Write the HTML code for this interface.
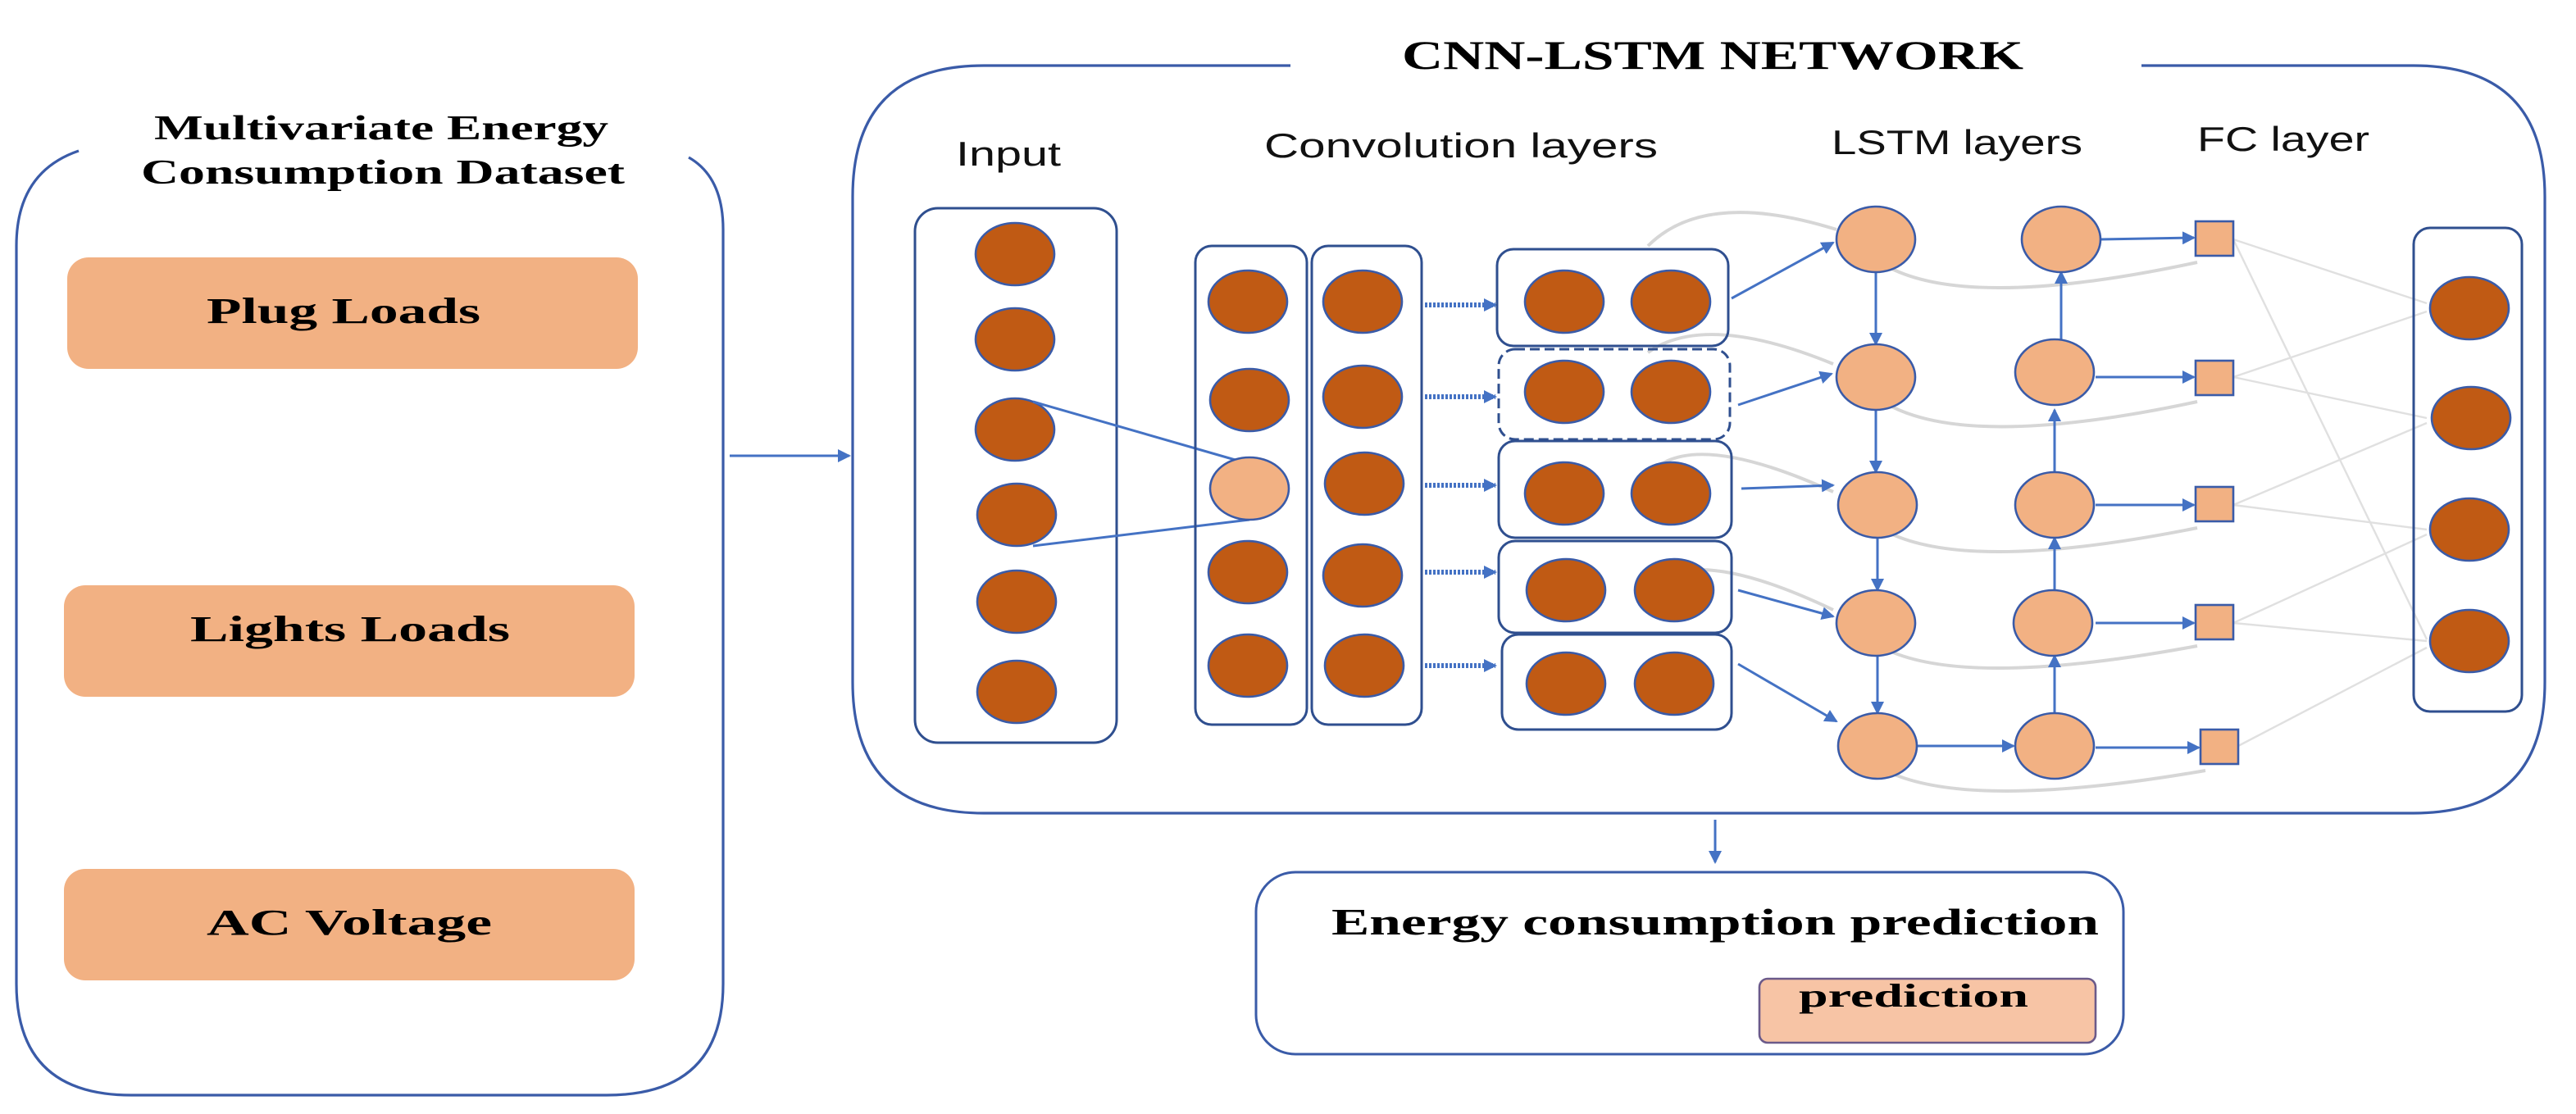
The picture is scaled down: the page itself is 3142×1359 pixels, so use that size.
<!DOCTYPE html>
<html><head><meta charset="utf-8"><style>
html,body{margin:0;padding:0;background:#fff}
svg{display:block}
.s{font-family:"Liberation Serif",serif;font-weight:bold;fill:#000}
.a{font-family:"Liberation Sans",sans-serif;fill:#111}
</style></head><body>
<svg width="3142" height="1359" viewBox="0 0 1571 679.5" preserveAspectRatio="none" xmlns="http://www.w3.org/2000/svg">
<defs>
<marker id="ar" markerWidth="8" markerHeight="8" refX="7" refY="4" orient="auto" markerUnits="userSpaceOnUse"><path d="M0,0 L8,4 L0,8 z" fill="#4472c4"/></marker>
</defs>
<!-- left box -->
<path d="M48,92 Q10,105 10,150 L10,600 Q10,668 80,668 L370,668 Q441,668 441,600 L441,140 Q441,108 420,96" fill="none" stroke="#3a5ba8" stroke-width="1.6"/>
<text class="s" x="94" y="85" font-size="21" textLength="277" lengthAdjust="spacingAndGlyphs">Multivariate Energy</text>
<text class="s" x="86" y="112" font-size="21" textLength="295" lengthAdjust="spacingAndGlyphs">Consumption Dataset</text>
<rect x="41" y="157" width="348" height="68" rx="13" fill="#f2b183"/>
<rect x="39" y="357" width="348" height="68" rx="13" fill="#f2b183"/>
<rect x="39" y="530" width="348" height="68" rx="13" fill="#f2b183"/>
<text class="s" x="126" y="197" font-size="22" textLength="167" lengthAdjust="spacingAndGlyphs">Plug  Loads</text>
<text class="s" x="116" y="391" font-size="22" textLength="195" lengthAdjust="spacingAndGlyphs">Lights  Loads</text>
<text class="s" x="126" y="570" font-size="22" textLength="174" lengthAdjust="spacingAndGlyphs">AC Voltage</text>
<line x1="445" y1="278" x2="518" y2="278" stroke="#4472c4" stroke-width="1.5" marker-end="url(#ar)"/>
<!-- CNN-LSTM box -->
<path d="M787,40 L600,40 Q520,40 520,120 L520,416 Q520,496 600,496 L1472,496 Q1552,496 1552,416 L1552,120 Q1552,40 1472,40 L1306,40" fill="none" stroke="#3a5ba8" stroke-width="1.6"/>
<text class="s" x="855" y="42" font-size="25" textLength="379" lengthAdjust="spacingAndGlyphs">CNN-LSTM NETWORK</text>
<text class="a" x="583" y="101" font-size="21" textLength="64" lengthAdjust="spacingAndGlyphs">Input</text>
<text class="a" x="771" y="96" font-size="21" textLength="240" lengthAdjust="spacingAndGlyphs">Convolution  layers</text>
<text class="a" x="1117" y="94" font-size="21" textLength="153" lengthAdjust="spacingAndGlyphs">LSTM layers</text>
<text class="a" x="1340" y="92" font-size="21" textLength="105" lengthAdjust="spacingAndGlyphs">FC layer</text>
<!-- gray loops -->
<g fill="none" stroke="#d6d6d6" stroke-width="2">
<path d="M1005,150 Q1040,115 1120,140"/>
<path d="M1005,215 Q1040,190 1118,222"/>
<path d="M1005,290 Q1030,260 1118,300"/>
<path d="M1005,360 Q1030,330 1118,372"/>
<path d="M1150,162 Q1200,190 1340,160"/>
<path d="M1150,246 Q1200,275 1340,245"/>
<path d="M1150,324 Q1200,350 1340,322"/>
<path d="M1150,396 Q1200,420 1340,394"/>
<path d="M1150,470 Q1200,495 1345,470"/>
</g>
<g stroke="#e0e0e0" stroke-width="1.2">
<line x1="1362" y1="146" x2="1480" y2="185"/><line x1="1362" y1="146" x2="1480" y2="390"/>
<line x1="1362" y1="230" x2="1480" y2="190"/><line x1="1362" y1="230" x2="1480" y2="255"/>
<line x1="1362" y1="308" x2="1480" y2="258"/><line x1="1362" y1="308" x2="1480" y2="323"/>
<line x1="1362" y1="380" x2="1480" y2="326"/><line x1="1362" y1="380" x2="1480" y2="391"/>
<line x1="1365" y1="455" x2="1480" y2="395"/>
</g>
<!-- input -->
<rect x="558" y="127" width="123" height="326" rx="14" fill="none" stroke="#2f4f8f" stroke-width="1.5"/>
<g fill="#c05a14" stroke="#3a5ba8" stroke-width="1.3">
<ellipse cx="619" cy="155" rx="24" ry="19"/><ellipse cx="619" cy="207" rx="24" ry="19"/><ellipse cx="619" cy="262" rx="24" ry="19"/>
<ellipse cx="620" cy="314" rx="24" ry="19"/><ellipse cx="620" cy="367" rx="24" ry="19"/><ellipse cx="620" cy="422" rx="24" ry="19"/>
</g>
<line x1="630" y1="245" x2="762" y2="283" stroke="#4472c4" stroke-width="1.5"/>
<line x1="630" y1="333" x2="762" y2="317" stroke="#4472c4" stroke-width="1.5"/>
<!-- conv -->
<rect x="729" y="150" width="68" height="292" rx="10" fill="none" stroke="#2f4f8f" stroke-width="1.5"/>
<rect x="800" y="150" width="67" height="292" rx="10" fill="none" stroke="#2f4f8f" stroke-width="1.5"/>
<g fill="#c05a14" stroke="#3a5ba8" stroke-width="1.3">
<ellipse cx="761" cy="184" rx="24" ry="19"/><ellipse cx="762" cy="244" rx="24" ry="19"/>
<ellipse cx="761" cy="349" rx="24" ry="19"/><ellipse cx="761" cy="406" rx="24" ry="19"/>
<ellipse cx="831" cy="184" rx="24" ry="19"/><ellipse cx="831" cy="242" rx="24" ry="19"/><ellipse cx="832" cy="295" rx="24" ry="19"/>
<ellipse cx="831" cy="351" rx="24" ry="19"/><ellipse cx="832" cy="406" rx="24" ry="19"/>
</g>
<ellipse cx="762" cy="298" rx="24" ry="19" fill="#f2b183" stroke="#3a5ba8" stroke-width="1.3"/>
<g stroke="#4472c4" stroke-width="3" stroke-dasharray="1.5 1" marker-end="url(#ar)">
<line x1="869" y1="186" x2="912" y2="186"/><line x1="869" y1="242" x2="912" y2="242"/>
<line x1="869" y1="296" x2="912" y2="296"/><line x1="869" y1="349" x2="912" y2="349"/>
<line x1="869" y1="406" x2="912" y2="406"/>
</g>
<g fill="none" stroke="#2f4f8f" stroke-width="1.5">
<rect x="913" y="152" width="141" height="59" rx="10"/>
<rect x="914" y="213" width="141" height="55" rx="10" stroke-dasharray="6 3"/>
<rect x="914" y="269" width="142" height="59" rx="10"/>
<rect x="914" y="330" width="142" height="56" rx="10"/>
<rect x="916" y="387" width="140" height="58" rx="10"/>
</g>
<g fill="#c05a14" stroke="#3a5ba8" stroke-width="1.3">
<ellipse cx="954" cy="184" rx="24" ry="19"/><ellipse cx="1019" cy="184" rx="24" ry="19"/>
<ellipse cx="954" cy="239" rx="24" ry="19"/><ellipse cx="1019" cy="239" rx="24" ry="19"/>
<ellipse cx="954" cy="301" rx="24" ry="19"/><ellipse cx="1019" cy="301" rx="24" ry="19"/>
<ellipse cx="955" cy="360" rx="24" ry="19"/><ellipse cx="1021" cy="360" rx="24" ry="19"/>
<ellipse cx="955" cy="417" rx="24" ry="19"/><ellipse cx="1021" cy="417" rx="24" ry="19"/>
</g>
<!-- arrows to LSTM -->
<g stroke="#4472c4" stroke-width="1.5" fill="none" marker-end="url(#ar)">
<line x1="1056" y1="182" x2="1118" y2="148"/>
<line x1="1060" y1="247" x2="1117" y2="228"/>
<line x1="1062" y1="298" x2="1118" y2="296"/>
<line x1="1060" y1="360" x2="1118" y2="376"/>
<line x1="1060" y1="405" x2="1120" y2="440"/>
<line x1="1144" y1="166" x2="1144" y2="210"/>
<line x1="1144" y1="250" x2="1144" y2="288"/>
<line x1="1145" y1="328" x2="1145" y2="360"/>
<line x1="1145" y1="400" x2="1145" y2="435"/>
<line x1="1169" y1="455" x2="1228" y2="455"/>
<line x1="1253" y1="435" x2="1253" y2="400"/>
<line x1="1253" y1="360" x2="1253" y2="328"/>
<line x1="1253" y1="288" x2="1253" y2="250"/>
<line x1="1257" y1="210" x2="1257" y2="166"/>
<line x1="1281" y1="146" x2="1338" y2="145"/>
<line x1="1278" y1="230" x2="1338" y2="230"/>
<line x1="1278" y1="308" x2="1338" y2="308"/>
<line x1="1278" y1="380" x2="1338" y2="380"/>
<line x1="1278" y1="456" x2="1341" y2="456"/>
</g>
<g fill="#f2b183" stroke="#3a5ba8" stroke-width="1.3">
<ellipse cx="1144" cy="146" rx="24" ry="20"/><ellipse cx="1144" cy="230" rx="24" ry="20"/><ellipse cx="1145" cy="308" rx="24" ry="20"/>
<ellipse cx="1144" cy="380" rx="24" ry="20"/><ellipse cx="1145" cy="455" rx="24" ry="20"/>
<ellipse cx="1257" cy="146" rx="24" ry="20"/><ellipse cx="1253" cy="227" rx="24" ry="20"/><ellipse cx="1253" cy="308" rx="24" ry="20"/>
<ellipse cx="1252" cy="380" rx="24" ry="20"/><ellipse cx="1253" cy="455" rx="24" ry="20"/>
<rect x="1339" y="135" width="23" height="21"/><rect x="1339" y="220" width="23" height="21"/>
<rect x="1339" y="297" width="23" height="21"/><rect x="1339" y="369" width="23" height="21"/>
<rect x="1342" y="445" width="23" height="21"/>
</g>
<!-- output -->
<rect x="1472" y="139" width="66" height="295" rx="10" fill="none" stroke="#2f4f8f" stroke-width="1.5"/>
<g fill="#c05a14" stroke="#3a5ba8" stroke-width="1.3">
<ellipse cx="1506" cy="188" rx="24" ry="19"/><ellipse cx="1507" cy="255" rx="24" ry="19"/>
<ellipse cx="1506" cy="323" rx="24" ry="19"/><ellipse cx="1506" cy="391" rx="24" ry="19"/>
</g>
<!-- prediction -->
<line x1="1046" y1="500" x2="1046" y2="526" stroke="#4472c4" stroke-width="1.5" marker-end="url(#ar)"/>
<rect x="766" y="532" width="529" height="111" rx="24" fill="none" stroke="#3a5ba8" stroke-width="1.5"/>
<text class="s" x="812" y="570" font-size="23" textLength="468" lengthAdjust="spacingAndGlyphs">Energy consumption prediction</text>
<rect x="1073" y="597" width="205" height="39" rx="5" fill="#f7c4a5" stroke="#6b5a8a" stroke-width="1.3"/>
<text class="s" x="1097" y="614" font-size="20" textLength="140" lengthAdjust="spacingAndGlyphs">prediction</text>
</svg>
</body></html>
